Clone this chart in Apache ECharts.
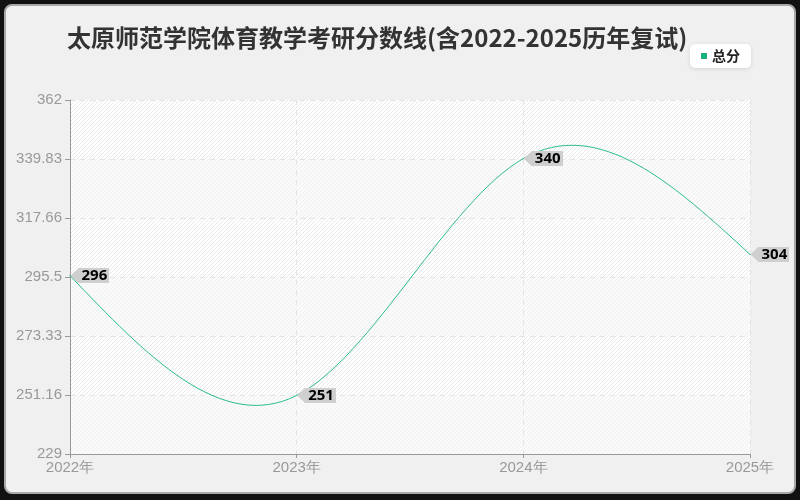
<!DOCTYPE html>
<html>
<head>
<meta charset="utf-8">
<script src="https://cdn.jsdelivr.net/npm/echarts@6/dist/echarts.min.js"></script>
<style>
  html, body { margin: 0; padding: 0; background: #111; }
  #box {
    position: absolute; left: 4px; top: 4px; width: 788px; height: 486px;
    background: #f0f0f0; border: 2px solid #a8a8a8; border-radius: 8px; overflow: hidden;
  }
  #main { width: 800px; height: 500px; position: absolute; left: -6px; top: -6px; }
</style>
</head>
<body>
<div id="box"><div id="main"></div></div>
<script>
const years = ['2022年', '2023年', '2024年', '2025年'];
const scores = [296, 251, 340, 304];
const yMin = 229;
const yMax = 362;

// hatch pattern for the plot bands
function hatch(bg, line) {
  const c = document.createElement('canvas');
  c.width = 4; c.height = 4;
  const g = c.getContext('2d');
  g.fillStyle = bg;
  g.fillRect(0, 0, 4, 4);
  g.strokeStyle = line;
  g.lineWidth = 1;
  g.beginPath();
  g.moveTo(-1, 5); g.lineTo(5, -1);
  g.moveTo(3, 5); g.lineTo(5, 3);
  g.moveTo(-1, 1); g.lineTo(1, -1);
  g.stroke();
  return { image: c, repeat: 'repeat' };
}

// gray tag with arrow pointing left
function tag() {
  const c = document.createElement('canvas');
  c.width = 80; c.height = 32;
  const g = c.getContext('2d');
  g.fillStyle = '#cfcfcf';
  g.beginPath();
  g.moveTo(0, 16);
  g.lineTo(16, 1);
  g.lineTo(80, 1);
  g.lineTo(80, 31);
  g.lineTo(16, 31);
  g.closePath();
  g.fill();
  return c;
}

// second derivatives of a natural cubic spline (unit spacing)
function splineM(y) {
  const n = y.length;
  const M = new Array(n).fill(0);
  if (n < 3) return M;
  const a = [], b = [], c = [], d = [];
  for (let i = 1; i < n - 1; i++) {
    a.push(1); b.push(4); c.push(1);
    d.push(6 * (y[i - 1] - 2 * y[i] + y[i + 1]));
  }
  const m = d.length;
  for (let i = 1; i < m; i++) {
    const w = a[i] / b[i - 1];
    b[i] -= w * c[i - 1];
    d[i] -= w * d[i - 1];
  }
  const x = new Array(m);
  x[m - 1] = d[m - 1] / b[m - 1];
  for (let i = m - 2; i >= 0; i--) x[i] = (d[i] - c[i] * x[i + 1]) / b[i];
  for (let i = 0; i < m; i++) M[i + 1] = x[i];
  return M;
}

function renderCurve(params, api) {
  if (params.dataIndex !== 0) return;
  const M = splineM(scores);
  const pts = scores.map((v, i) => api.coord([i, v]));
  const dx = pts.length > 1 ? pts[1][0] - pts[0][0] : 0;
  const dy = api.coord([0, yMin + 1])[1] - api.coord([0, yMin])[1];
  const d = [];
  for (let i = 0; i < scores.length - 1; i++) {
    const s0 = (scores[i + 1] - scores[i]) - (2 * M[i] + M[i + 1]) / 6;
    const s1 = (scores[i + 1] - scores[i]) + (M[i] + 2 * M[i + 1]) / 6;
    const p0 = pts[i], p1 = pts[i + 1];
    d.push([p0[0] + dx / 3, p0[1] + s0 * dy / 3,
            p1[0] - dx / 3, p1[1] - s1 * dy / 3, p1[0], p1[1]]);
  }
  let path = 'M' + pts[0][0] + ' ' + pts[0][1];
  d.forEach(s => { path += ' C' + s.join(' '); });
  return {
    type: 'path',
    shape: { pathData: path },
    style: { fill: 'none', stroke: '#2dbb90', lineWidth: 1 },
    silent: true
  };
}

var myChart = echarts.init(document.getElementById('main'));

const option = {
  backgroundColor: 'transparent',
  title: {
    text: '太原师范学院体育教学考研分数线(含2022-2025历年复试)',
    left: 62,
    top: 21,
    textStyle: {
      fontFamily: 'Noto Sans CJK SC',
      fontSize: 24,
      fontWeight: 'bold',
      color: '#333'
    }
  },
  legend: {
    data: ['总分'],
    right: 49,
    top: 44,
    backgroundColor: '#fff',
    borderRadius: 5,
    padding: [5, 11, 5, 11],
    shadowColor: 'rgba(0,0,0,0.12)',
    shadowBlur: 4,
    shadowOffsetY: 1,
    itemWidth: 6,
    itemHeight: 6,
    itemGap: 6,
    icon: 'rect',
    textStyle: { fontFamily: 'Noto Sans CJK SC', fontSize: 14, fontWeight: 'bold', color: '#222' }
  },
  grid: { left: 70, right: 50, top: 100, bottom: 46 },
  xAxis: {
    type: 'category',
    data: years,
    boundaryGap: false,
    axisLine: { lineStyle: { color: '#999' } },
    axisTick: { show: true, length: 4, lineStyle: { color: '#999' } },
    axisLabel: { color: '#999', fontSize: 15, margin: 6 },
    splitLine: { show: true, lineStyle: { color: '#e3e3e3', type: [5, 5] } }
  },
  yAxis: {
    type: 'value',
    min: yMin,
    max: yMax,
    interval: (yMax - yMin) / 6,
    axisLine: { show: true, lineStyle: { color: '#999' } },
    axisTick: { show: true, length: 5, lineStyle: { color: '#999' } },
    axisLabel: {
      color: '#999', fontSize: 15, margin: 8,
      formatter: v => String(Math.floor(v * 100 + 1e-6) / 100)
    },
    splitLine: { lineStyle: { color: '#e3e3e3', type: [5, 5] } },
    splitArea: {
      show: true,
      areaStyle: { color: [hatch('#fafafa', '#f1f1f1'), hatch('#ffffff', '#e9e9e9')] }
    }
  },
  series: [
    {
      name: 'curve',
      type: 'custom',
      renderItem: renderCurve,
      data: scores.map((v, i) => [i, v]),
      z: 3
    },
    {
      name: '总分',
      type: 'line',
      data: scores,
      symbol: 'circle',
      symbolSize: 1,
      lineStyle: { opacity: 0 },
      itemStyle: { color: '#19b27e' },
      z: 4,
      label: {
        show: true,
        position: 'right',
        distance: 0,
        color: '#000',
        fontFamily: 'Noto Sans',
        fontSize: 15,
        fontWeight: 'bold',
        lineHeight: 16,
        padding: [0, 2, 0, 11],
        backgroundColor: { image: tag() }
      }
    }
  ]
};

myChart.setOption(option);
</script>
</body>
</html>
